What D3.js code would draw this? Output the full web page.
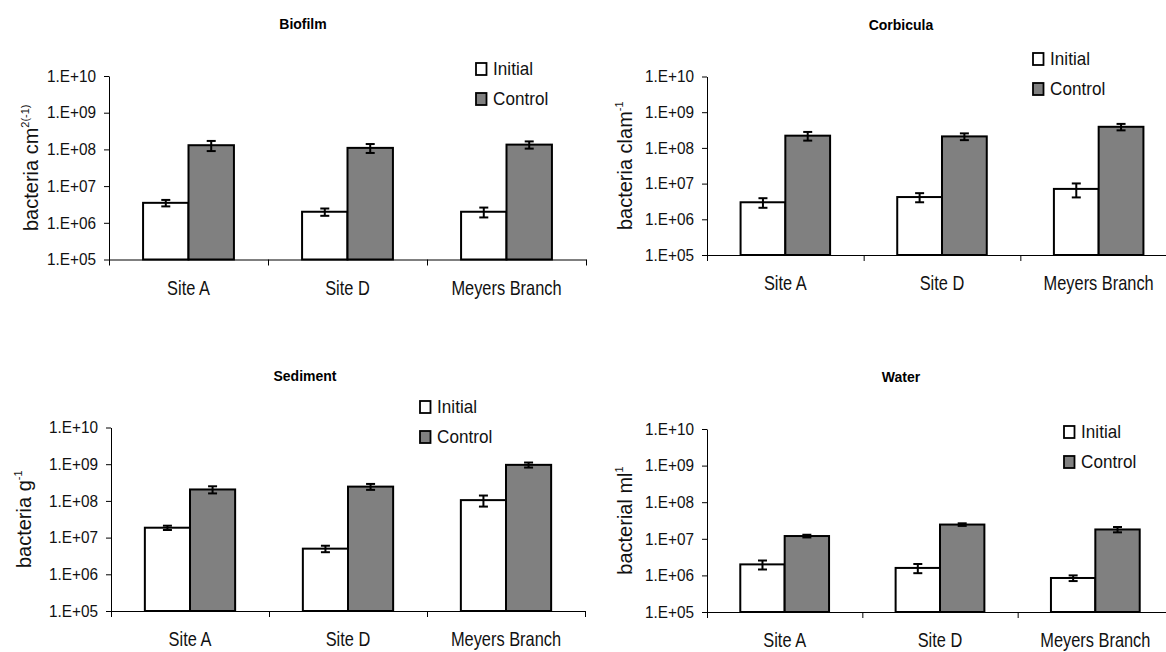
<!DOCTYPE html>
<html>
<head>
<meta charset="utf-8">
<script src="https://cdn.jsdelivr.net/npm/d3@7"></script>
<style>
  body { margin: 0; background: #fff; }
  svg { display: block; font-family: Arial, "Liberation Sans", sans-serif; }
</style>
</head>
<body>
<svg id="chart" width="1166" height="652"></svg>
<script>
// categories / series
var categories = ["Site A", "Site D", "Meyers Branch"];
var seriesNames = ["Initial", "Control"];
var yTicks = [1e5, 1e6, 1e7, 1e8, 1e9, 1e10];

// values (bacteria counts), with +/- error
var biofilmInitial = [3.5e6, 2.0e6, 2.0e6];
var biofilmInitialErr = [0.7e6, 0.45e6, 0.6e6];
var biofilmControl = [1.3e8, 1.1e8, 1.35e8];
var biofilmControlErr = [0.4e8, 0.3e8, 0.3e8];

var corbiculaInitial = [3.0e6, 4.2e6, 7.1e6];
var corbiculaInitialErr = [0.9e6, 1.2e6, 3.0e6];
var corbiculaControl = [2.2e8, 2.1e8, 3.9e8];
var corbiculaControlErr = [0.6e8, 0.45e8, 0.8e8];

var sedimentInitial = [1.86e7, 5.0e6, 1.05e8];
var sedimentInitialErr = [0.25e7, 1.0e6, 0.35e8];
var sedimentControl = [2.05e8, 2.45e8, 9.6e8];
var sedimentControlErr = [0.45e8, 0.45e8, 1.5e8];

var waterInitial = [2.0e6, 1.6e6, 8.5e5];
var waterInitialErr = [0.55e6, 0.45e6, 1.5e5];
var waterControl = [1.19e7, 2.45e7, 1.8e7];
var waterControlErr = [0.1e7, 0.2e7, 0.3e7];

var svg = d3.select("#chart");

var panels = [
  { title: "Biofilm", label: "bacteria cm", sup: "2(-1)",
    initial: biofilmInitial, initialErr: biofilmInitialErr,
    control: biofilmControl, controlErr: biofilmControlErr,
    x0: 109, top: 76, bottom: 259.5, w: 477, labelOff: 71, legX: 367, legY: -7 },
  { title: "Corbicula", label: "bacteria clam", sup: "-1",
    initial: corbiculaInitial, initialErr: corbiculaInitialErr,
    control: corbiculaControl, controlErr: corbiculaControlErr,
    x0: 707, top: 76.5, bottom: 255, w: 470, labelOff: 75, legX: 326, legY: -17.5 },
  { title: "Sediment", label: "bacteria g", sup: "-1",
    initial: sedimentInitial, initialErr: sedimentInitialErr,
    control: sedimentControl, controlErr: sedimentControlErr,
    x0: 111, top: 427.5, bottom: 611, w: 474, labelOff: 80, legX: 309, legY: -20.5 },
  { title: "Water", label: "bacterial ml", sup: "1",
    initial: waterInitial, initialErr: waterInitialErr,
    control: waterControl, controlErr: waterControlErr,
    x0: 707, top: 429, bottom: 612, w: 466, labelOff: 75, legX: 357, legY: 3 }
];

function fmtTick(d) {
  var e = Math.round(Math.log10(d));
  return "1.E+" + (e < 10 ? "0" + e : e);
}

panels.forEach(function (p) {
  var g = svg.append("g");

  var y = d3.scaleLog().domain([1e5, 1e10]).range([p.bottom, p.top]);
  var x = d3.scaleBand().domain(categories).range([p.x0, p.x0 + p.w]).padding(0);
  var xs = d3.scaleBand().domain(seriesNames).range([0, x.bandwidth()])
    .paddingInner(0).paddingOuter(0.75);

  // title
  g.append("text")
    .attr("x", p.x0 + 194)
    .attr("y", p.top - 47)
    .attr("text-anchor", "middle")
    .attr("font-size", "14px")
    .attr("font-weight", "bold")
    .text(p.title);

  // y label
  var lab = g.append("text")
    .attr("transform", "translate(" + (p.x0 - p.labelOff) + "," + ((p.top + p.bottom) / 2) + ") rotate(-90)")
    .attr("text-anchor", "middle")
    .attr("font-size", "20px")
    .attr("fill", "#111");
  lab.append("tspan").text(p.label);
  lab.append("tspan").attr("font-size", "11px").attr("dy", -9).text(p.sup);

  // bars
  var rows = [];
  categories.forEach(function (c, i) {
    rows.push({ cat: c, s: "Initial", v: p.initial[i], e: p.initialErr[i] });
    rows.push({ cat: c, s: "Control", v: p.control[i], e: p.controlErr[i] });
  });

  g.selectAll("rect.bar").data(rows).enter().append("rect")
    .attr("class", "bar")
    .attr("x", function (d) { return x(d.cat) + xs(d.s); })
    .attr("y", function (d) { return y(d.v); })
    .attr("width", xs.bandwidth())
    .attr("height", function (d) { return p.bottom - y(d.v); })
    .attr("fill", function (d) { return d.s == "Initial" ? "#fff" : "#808080"; })
    .attr("stroke", "#000")
    .attr("stroke-width", 2);

  // error bars
  var eb = g.selectAll("g.err").data(rows).enter().append("g")
    .attr("class", "err")
    .attr("stroke", "#000")
    .attr("stroke-width", 2);
  eb.append("line")
    .attr("x1", function (d) { return x(d.cat) + xs(d.s) + xs.bandwidth() / 2; })
    .attr("x2", function (d) { return x(d.cat) + xs(d.s) + xs.bandwidth() / 2; })
    .attr("y1", function (d) { return y(d.v + d.e); })
    .attr("y2", function (d) { return y(d.v - d.e); });
  [1, -1].forEach(function (sgn) {
    eb.append("line")
      .attr("x1", function (d) { return x(d.cat) + xs(d.s) + xs.bandwidth() / 2 - 4.5; })
      .attr("x2", function (d) { return x(d.cat) + xs(d.s) + xs.bandwidth() / 2 + 4.5; })
      .attr("y1", function (d) { return y(d.v + sgn * d.e); })
      .attr("y2", function (d) { return y(d.v + sgn * d.e); });
  });

  // y axis
  var ya = g.append("g")
    .attr("transform", "translate(" + p.x0 + ",0)")
    .call(d3.axisLeft(y).tickValues(yTicks).tickFormat(fmtTick).tickSize(5).tickSizeOuter(0).tickPadding(9));
  ya.selectAll("text").attr("font-size", "16.5px").attr("fill", "#111")
    .attr("transform", "scale(0.93,1)");
  ya.attr("font-family", null);

  // x axis line with boundary ticks
  var xb = d3.scaleLinear().domain([0, categories.length]).range([p.x0, p.x0 + p.w]);
  g.append("g")
    .attr("transform", "translate(0," + p.bottom + ")")
    .call(d3.axisBottom(xb).tickValues(d3.range(categories.length + 1)).tickFormat("").tickSize(6).tickSizeOuter(0))
    .attr("font-family", null);

  // category labels
  var xa = g.append("g")
    .attr("transform", "translate(0," + p.bottom + ")")
    .call(d3.axisBottom(x).tickSize(0).tickPadding(21))
    .attr("font-family", null);
  xa.select(".domain").remove();
  xa.selectAll("text").attr("font-size", "20px").attr("fill", "#111")
    .attr("transform", "scale(0.82,1)");

  // legend
  var leg = g.selectAll("g.leg").data(seriesNames).enter().append("g")
    .attr("class", "leg")
    .attr("transform", function (d, i) {
      return "translate(" + (p.x0 + p.legX) + "," + (p.top + p.legY + i * 30) + ")";
    });
  leg.append("rect")
    .attr("x", 0).attr("y", -6)
    .attr("width", 10.5).attr("height", 12)
    .attr("fill", function (d) { return d == "Initial" ? "#fff" : "#808080"; })
    .attr("stroke", "#000")
    .attr("stroke-width", 1.8);
  leg.append("text")
    .attr("x", 18).attr("dy", "0.36em")
    .attr("font-size", "18px")
    .attr("fill", "#111")
    .attr("transform", "scale(0.95,1)")
    .text(function (d) { return d; });
});
</script>
</body>
</html>
